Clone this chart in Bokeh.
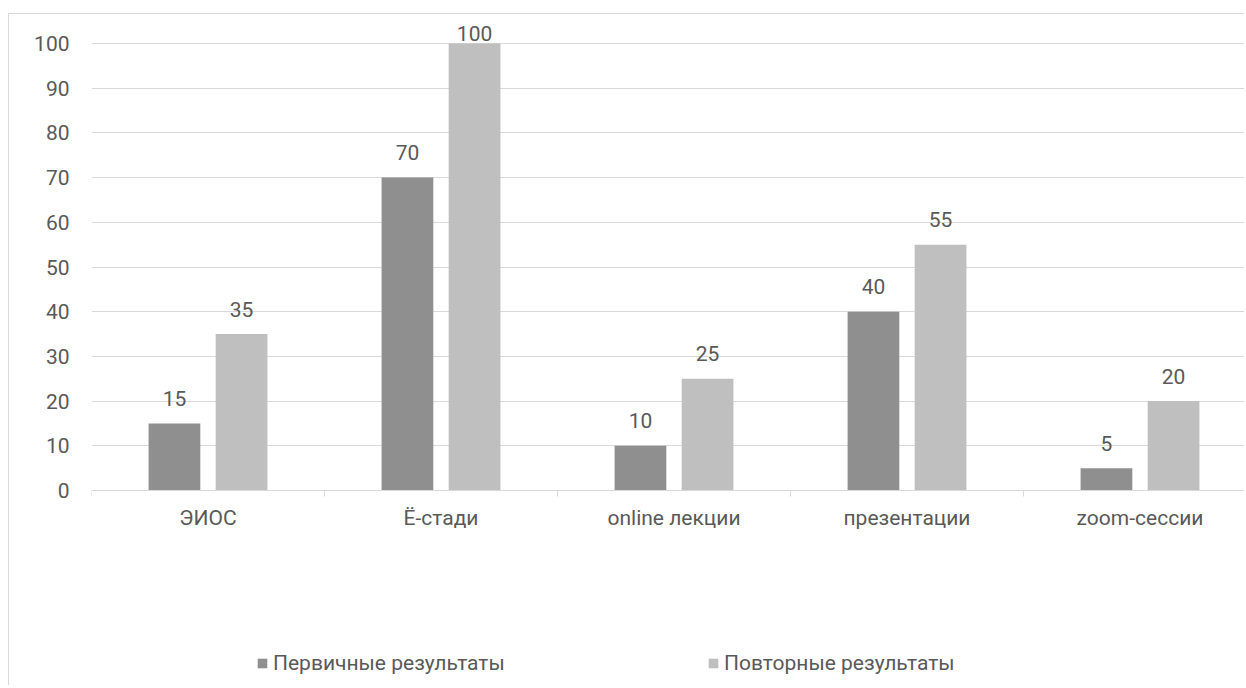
from bokeh.plotting import figure
from bokeh.models import (Range1d, FixedTicker, ColumnDataSource, Legend, LegendItem,
                          CustomJSTickFormatter)
from bokeh.embed import file_html
from bokeh.resources import INLINE
from bokeh.core.properties import value

# ---- data ----
categories = ["ЭИОС", "Ё-стади", "online лекции", "презентации", "zoom-сессии"]
primary = [15, 70, 10, 40, 5]
repeat = [35, 100, 25, 55, 20]
series_names = ["Первичные результаты", "Повторные результаты"]
y_ticks = [0, 10, 20, 30, 40, 50, 60, 70, 80, 90, 100]

# ---- style ----
FONT = "Roboto"
FS = "21px"
TXT = "#595959"
GRID = "#d9d9d9"
COLORS = ["#8f8f8f", "#bfbfbf"]

W, H = 1236, 672
LEFT, TOP, FRAME_H = 82, 29, 447      # TOP: pixels above value 100; FRAME_H: 0..100 span
CAT_PX = 233.0
YMAX = 100
px_per_unit = FRAME_H / YMAX
# frame covers the whole canvas height so labels and legend are never clipped
Y_TOP = YMAX + TOP / px_per_unit
Y_BOT = -(H - TOP - FRAME_H) / px_per_unit

p = figure(width=W, height=H, output_backend="svg", toolbar_location=None,
           x_range=Range1d(0, (W - LEFT) / CAT_PX), y_range=Range1d(Y_BOT, Y_TOP),
           min_border_left=LEFT, min_border_right=0, min_border_top=0,
           min_border_bottom=0)
p.styles = {"border-left": "1px solid #d9d9d9", "border-top": "1px solid #d9d9d9",
            "margin-top": "13px", "margin-left": "8px"}
p.outline_line_color = None
p.background_fill_color = "white"
p.border_fill_color = "white"

centers = [i + 0.5 for i in range(len(categories))]
off, bw = 0.144, 0.222

renderers = []
for k, (vals, sgn) in enumerate([(primary, -1), (repeat, 1)]):
    xs = [c + sgn * off for c in centers]
    src = ColumnDataSource(dict(x=xs, top=vals))
    r = p.vbar(x="x", top="top", width=bw, bottom=0, source=src,
               fill_color=COLORS[k], line_color=None)
    renderers.append(r)
    dy = [-25 if v < YMAX else -10 for v in vals]
    lsrc = ColumnDataSource(dict(x=xs, y=vals, t=[str(v) for v in vals], dy=dy))
    p.text(x="x", y="y", text="t", y_offset="dy", source=lsrc,
           text_align="center", text_baseline="alphabetic",
           text_font=value(FONT), text_font_size=FS, text_color=TXT)

# x axis, pinned at value 0
p.xaxis.fixed_location = 0
p.xaxis.ticker = FixedTicker(ticks=centers, minor_ticks=list(range(len(categories) + 1)))
p.xaxis.formatter = CustomJSTickFormatter(args=dict(cats=categories),
                                          code="return cats[Math.floor(tick)];")
p.xaxis.major_tick_line_color = None
p.xaxis.major_tick_out = 0
p.xaxis.minor_tick_line_color = GRID
p.xaxis.minor_tick_out = 6
p.xaxis.minor_tick_in = 0
p.xaxis.axis_line_color = GRID
p.xaxis.major_label_standoff = 9
p.xaxis.major_label_text_font = FONT
p.xaxis.major_label_text_font_size = FS
p.xaxis.major_label_text_color = TXT

# y axis
p.yaxis.ticker = FixedTicker(ticks=y_ticks)
p.yaxis.axis_line_color = None
p.yaxis.major_tick_line_color = None
p.yaxis.minor_tick_line_color = None
p.yaxis.major_tick_out = 0
p.yaxis.major_label_standoff = 22
p.yaxis.major_label_text_font = FONT
p.yaxis.major_label_text_font_size = FS
p.yaxis.major_label_text_color = TXT

p.xgrid.visible = False
p.ygrid.ticker = FixedTicker(ticks=y_ticks)
p.ygrid.grid_line_color = GRID

# legends (one per series, placed in screen pixels from the frame's bottom-left)
for name, r, xloc in zip(series_names, renderers, [165, 616]):
    leg = Legend(items=[LegendItem(label=name, renderers=[r])], location=(xloc, 11),
                 orientation="horizontal", glyph_width=12, glyph_height=12,
                 label_height=20, label_standoff=5, padding=0, margin=0,
                 border_line_color=None, background_fill_alpha=0,
                 label_text_font=FONT, label_text_font_size=FS, label_text_color=TXT)
    p.add_layout(leg, "center")

open("out.html", "w").write(file_html(p, INLINE))
